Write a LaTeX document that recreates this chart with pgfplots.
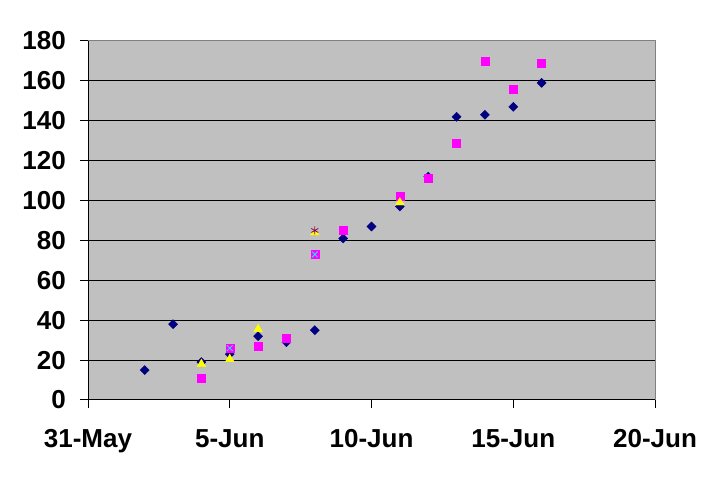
\documentclass[border=0pt]{standalone}
\usepackage{fontspec}
\setmainfont{Liberation Sans}
\usepackage{pgfplots}
\pgfplotsset{compat=1.18}
\definecolor{plotgray}{RGB}{192,192,192}
\definecolor{bordergray}{RGB}{128,128,128}
\definecolor{navy}{RGB}{0,0,128}
\definecolor{mag}{RGB}{255,0,255}
\definecolor{yel}{RGB}{255,255,0}
\definecolor{cya}{RGB}{0,255,255}
\definecolor{pur}{RGB}{128,0,128}
\begin{document}
\begin{tikzpicture}[x=1pt,y=1pt]
\useasboundingbox (0,0) rectangle (722,481);
\begin{axis}[
  at={(88pt,81pt)}, anchor=south west,
  scale only axis, width=567pt, height=359pt,
  xmin=0, xmax=20, ymin=0, ymax=180,
  xtick={0,5,10,15,20},
  xticklabels={31-May,5-Jun,10-Jun,15-Jun,20-Jun},
  ytick={0,20,...,180},
  axis lines*=left,
  axis line style={black, line width=1pt},
  tick align=outside,
  major tick length=8pt,
  tick style={black, line width=1pt},
  ymajorgrids,
  grid style={black, line width=1pt},
  axis background/.style={fill=plotgray},
  /pgf/number format/assume math mode=true,
  tick label style={font=\bfseries\fontsize{26}{30}\selectfont},
  yticklabel style={inner sep=0pt, anchor=east, xshift=-14pt},
  xticklabel style={inner sep=0pt, anchor=north, yshift=-21pt},
  clip=false,
]
\draw[bordergray, line width=1pt] (rel axis cs:0,1) -- (rel axis cs:1,1) -- (rel axis cs:1,0);
\addplot[only marks, mark=square*, mark size=3.2pt, mark options={rotate=45, fill=navy, draw=navy}] coordinates {
(2,15)(3,38)(4,19)(5,23)(6,32)(7,29)(8,35)(9,81)(10,87)(11,97)(12,112)(13,142)(14,143)(15,147)(16,159)};
\addplot[only marks, mark=square*, mark size=4pt, mark options={fill=mag, draw=mag}] coordinates {
(4,11)(5,26)(6,27)(7,31)(8,73)(9,85)(11,102)(12,111)(13,129)(14,170)(15,156)(16,169)};
\addplot[only marks, mark=triangle*, mark size=5pt, mark options={fill=yel, draw=yel}] coordinates {
(4,18)(5,20.5)(6,35.5)(8,84)(11,99)};
\addplot[only marks, mark=x, mark size=4pt, mark options={draw=cya, line width=0.8pt}] coordinates {
(5,26)(8,73)};
\addplot[only marks, mark=asterisk, mark size=4pt, mark options={draw=pur, line width=0.8pt}] coordinates {
(8,85)};
\end{axis}
\end{tikzpicture}
\end{document}
